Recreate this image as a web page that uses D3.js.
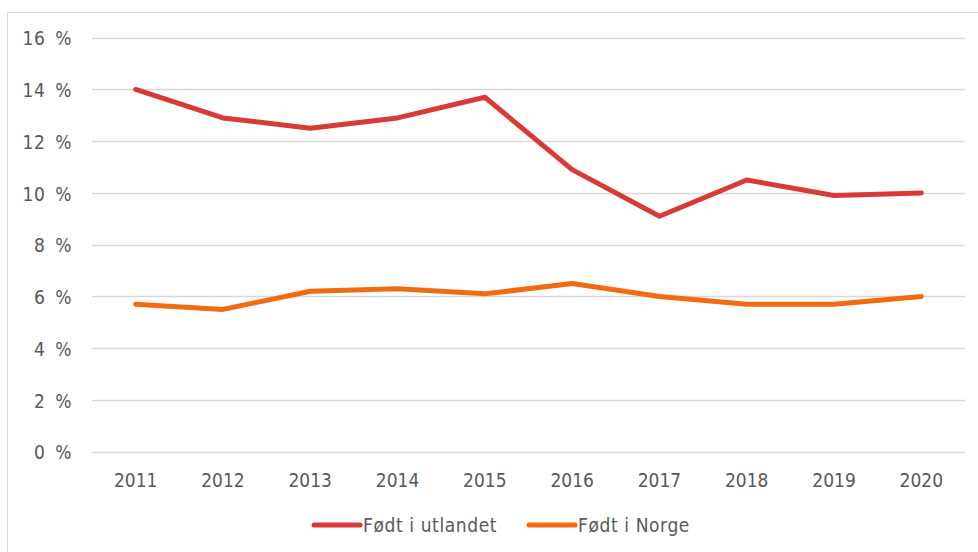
<!DOCTYPE html>
<html>
<head>
<meta charset="utf-8">
<script src="https://cdn.jsdelivr.net/npm/d3@7"></script>
<style>
  body { margin: 0; background: #fff; }
  svg { display: block; }
  text { font-family: "DejaVu Sans Condensed", "DejaVu Sans", sans-serif; fill: #595959; }
</style>
</head>
<body>
<div id="chart"></div>
<script>
// DATA
const years = ["2011", "2012", "2013", "2014", "2015", "2016", "2017", "2018", "2019", "2020"];
const utlandet = [14.0, 12.9, 12.5, 12.9, 13.7, 10.9, 9.1, 10.5, 9.9, 10.0];
const norge = [5.7, 5.5, 6.2, 6.3, 6.1, 6.5, 6.0, 5.7, 5.7, 6.0];
const yTicks = [0, 2, 4, 6, 8, 10, 12, 14, 16];
const seriesNames = ["Født i utlandet", "Født i Norge"];

// chart variables
const width = 978;
const height = 552;
const colors = ["#d93a36", "#f26b10"];
const fontFam = "DejaVu Sans Condensed, DejaVu Sans, sans-serif";
const fontSize = 19;

const svg = d3.select("#chart")
    .append("svg")
        .attr("width", width)
        .attr("height", height);

// outer frame (runs off the right and bottom edge)
svg.append("rect")
    .attr("x", 7.5)
    .attr("y", 12.5)
    .attr("width", width + 20)
    .attr("height", height + 20)
    .attr("fill", "none")
    .attr("stroke", "#d9d9d9")
    .attr("stroke-width", 1);

const x = d3.scaleBand()
    .domain(years)
    .range([92, 965]);

const y = d3.scaleLinear()
    .domain([0, 16])
    .range([451.7, 37.7]);

// gridlines
svg.append("g")
        .attr("class", "grid")
    .selectAll("line")
    .data(yTicks)
    .enter()
    .append("line")
        .attr("x1", 92)
        .attr("x2", 965)
        .attr("y1", d => Math.round(y(d)) + 0.5)
        .attr("y2", d => Math.round(y(d)) + 0.5)
        .attr("stroke", "#d9d9d9")
        .attr("stroke-width", 1.3);

// y axis labels
const yAxis = d3.axisLeft(y)
    .tickValues(yTicks)
    .tickSize(0)
    .tickPadding(0)
    .tickFormat(d => d + " %");

svg.append("g")
        .attr("transform", "translate(72,1)")
        .call(yAxis)
        .call(g => g.select(".domain").remove())
        .selectAll("text")
            .attr("font-size", fontSize)
            .attr("word-spacing", 4)
            .attr("letter-spacing", 0.5)
            .attr("fill", "#595959")
            .attr("font-family", fontFam);

// x axis labels
const xAxis = d3.axisBottom(x)
    .tickSize(0)
    .tickPadding(0);

svg.append("g")
        .attr("transform", "translate(0,473)")
        .call(xAxis)
        .call(g => g.select(".domain").remove())
        .selectAll("text")
            .attr("font-size", fontSize)
            .attr("fill", "#595959")
            .attr("font-family", fontFam);

// lines
const line = d3.line()
    .x((d, i) => x(years[i]) + x.bandwidth() / 2)
    .y(d => y(d));

[utlandet, norge].forEach((series, k) => {
    svg.append("path")
        .datum(series)
        .attr("d", line)
        .attr("fill", "none")
        .attr("stroke", colors[k])
        .attr("stroke-width", 5)
        .attr("stroke-linejoin", "round")
        .attr("stroke-linecap", "round");
});

// legend
const legendX = [312, 527];
const legend = svg.append("g").attr("class", "legend");
seriesNames.forEach((name, k) => {
    legend.append("line")
        .attr("x1", legendX[k] + 2)
        .attr("x2", legendX[k] + 48)
        .attr("y1", 525)
        .attr("y2", 525)
        .attr("stroke", colors[k])
        .attr("stroke-width", 5)
        .attr("stroke-linecap", "round");
    legend.append("text")
        .attr("x", legendX[k] + 51)
        .attr("y", 525)
        .attr("dy", "0.35em")
        .attr("font-size", fontSize)
        .attr("letter-spacing", 0.6)
        .attr("font-family", fontFam)
        .text(name);
});
</script>
</body>
</html>
